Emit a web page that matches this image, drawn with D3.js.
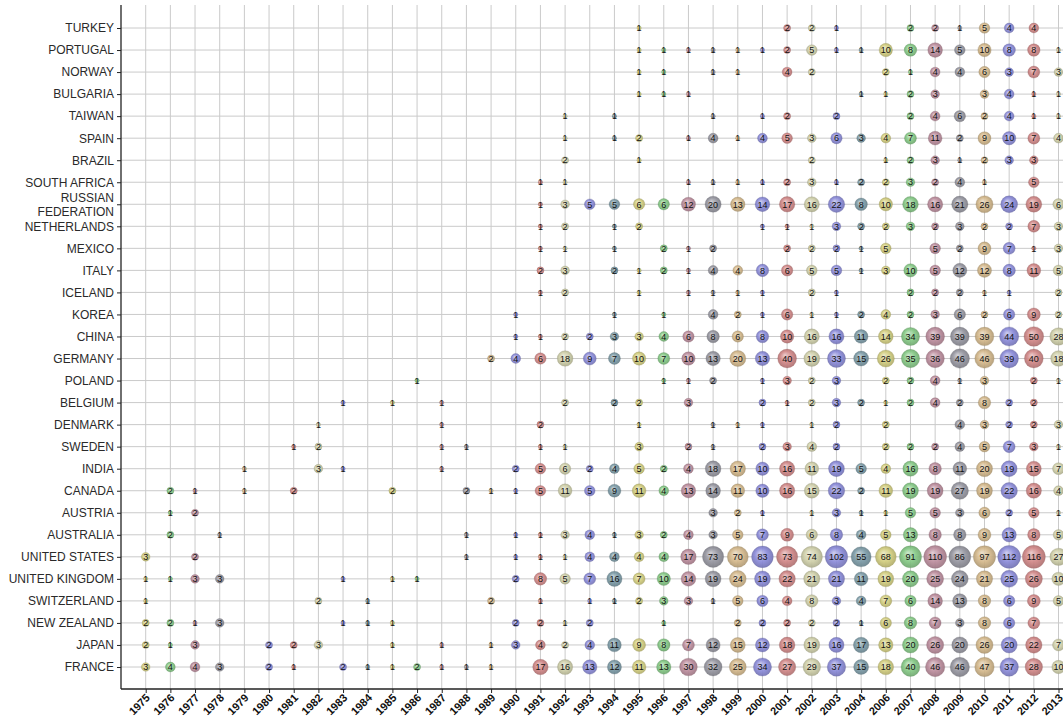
<!DOCTYPE html>
<html>
<head>
<meta charset="utf-8">
<script src="https://cdn.jsdelivr.net/npm/d3@7"></script>
<style>
  html, body { margin: 0; padding: 0; background: #fff; }
  svg { display: block; font-family: "Liberation Sans", Arial, sans-serif; }
</style>
</head>
<body>
<svg id="chart" width="1063" height="718"></svg>
<script>
// Rows, top to bottom
const countries = [
  "TURKEY", "PORTUGAL", "NORWAY", "BULGARIA", "TAIWAN", "SPAIN", "BRAZIL",
  "SOUTH AFRICA", "RUSSIAN FEDERATION", "NETHERLANDS", "MEXICO", "ITALY",
  "ICELAND", "KOREA", "CHINA", "GERMANY", "POLAND", "BELGIUM", "DENMARK",
  "SWEDEN", "INDIA", "CANADA", "AUSTRIA", "AUSTRALIA", "UNITED STATES",
  "UNITED KINGDOM", "SWITZERLAND", "NEW ZEALAND", "JAPAN", "FRANCE"
];

// Year columns (2005 has no column)
const years = [
  "1975", "1976", "1977", "1978", "1979", "1980", "1981", "1982", "1983", "1984",
  "1985", "1986", "1987", "1988", "1989", "1990", "1991", "1992", "1993", "1994",
  "1995", "1996", "1997", "1998", "1999", "2000", "2001", "2002", "2003", "2004",
  "2006", "2007", "2008", "2009", "2010", "2011", "2012", "2013"
];

// Counts per country, one entry per year column; 0 = no bubble
//            1975 ............ 1984 | 1985 ............ 1994 | 1995 ................... 2004 | 2006 ........... 2013
const counts = [
  /* TURKEY */       [0,0,0,0,0,0,0,0,0,0, 0,0,0,0,0,0,0,0,0,0, 1,0,0,0,0,0,2,2,1,0, 0,2,2,1,5,4,4,0],
  /* PORTUGAL */     [0,0,0,0,0,0,0,0,0,0, 0,0,0,0,0,0,0,0,0,0, 1,1,1,1,1,1,2,5,1,1, 10,8,14,5,10,8,8,1],
  /* NORWAY */       [0,0,0,0,0,0,0,0,0,0, 0,0,0,0,0,0,0,0,0,0, 1,1,0,1,1,0,4,2,0,0, 2,1,4,4,6,3,7,3],
  /* BULGARIA */     [0,0,0,0,0,0,0,0,0,0, 0,0,0,0,0,0,0,0,0,0, 1,1,1,0,0,0,0,0,0,1, 1,2,3,0,3,4,1,1],
  /* TAIWAN */       [0,0,0,0,0,0,0,0,0,0, 0,0,0,0,0,0,0,1,0,1, 0,0,0,1,0,1,2,0,2,0, 0,2,4,6,2,4,1,1],
  /* SPAIN */        [0,0,0,0,0,0,0,0,0,0, 0,0,0,0,0,0,0,1,0,1, 2,0,1,4,1,4,5,3,6,3, 4,7,11,2,9,10,7,4],
  /* BRAZIL */       [0,0,0,0,0,0,0,0,0,0, 0,0,0,0,0,0,0,2,0,0, 1,0,0,0,0,0,0,2,0,0, 1,2,3,1,2,3,3,0],
  /* SOUTH AFRICA */ [0,0,0,0,0,0,0,0,0,0, 0,0,0,0,0,0,1,1,0,0, 0,0,1,1,1,1,2,3,1,2, 2,3,2,4,1,0,5,0],
  /* RUSSIAN FED. */ [0,0,0,0,0,0,0,0,0,0, 0,0,0,0,0,0,1,3,5,5, 6,6,12,20,13,14,17,16,22,8, 10,18,16,21,26,24,19,6],
  /* NETHERLANDS */  [0,0,0,0,0,0,0,0,0,0, 0,0,0,0,0,0,1,2,0,1, 2,0,0,0,0,1,1,1,3,2, 2,3,2,3,2,2,7,3],
  /* MEXICO */       [0,0,0,0,0,0,0,0,0,0, 0,0,0,0,0,0,1,1,0,1, 0,2,1,2,0,0,2,2,2,1, 5,0,5,2,9,7,1,3],
  /* ITALY */        [0,0,0,0,0,0,0,0,0,0, 0,0,0,0,0,0,2,3,0,2, 1,2,1,4,4,8,6,5,5,1, 3,10,5,12,12,8,11,5],
  /* ICELAND */      [0,0,0,0,0,0,0,0,0,0, 0,0,0,0,0,0,1,2,0,0, 1,0,1,1,1,1,0,2,1,0, 0,2,2,2,1,1,0,2],
  /* KOREA */        [0,0,0,0,0,0,0,0,0,0, 0,0,0,0,0,1,0,0,0,1, 0,1,0,4,2,1,6,1,1,2, 4,2,3,6,2,6,9,2],
  /* CHINA */        [0,0,0,0,0,0,0,0,0,0, 0,0,0,0,0,1,1,2,2,3, 3,4,6,8,6,8,10,16,16,11, 14,34,39,39,39,44,50,28],
  /* GERMANY */      [0,0,0,0,0,0,0,0,0,0, 0,0,0,0,2,4,6,18,9,7, 10,7,10,13,20,13,40,19,33,15, 26,35,36,46,46,39,40,18],
  /* POLAND */       [0,0,0,0,0,0,0,0,0,0, 0,1,0,0,0,0,0,0,0,0, 0,1,1,2,0,1,3,2,3,0, 2,2,4,1,3,0,2,1],
  /* BELGIUM */      [0,0,0,0,0,0,0,0,1,0, 1,0,1,0,0,0,0,2,0,2, 2,0,3,0,0,2,1,2,3,2, 1,2,4,2,8,2,2,0],
  /* DENMARK */      [0,0,0,0,0,0,0,1,0,0, 0,0,1,0,0,0,2,0,0,0, 1,0,0,1,1,1,0,1,2,0, 2,0,0,4,3,2,2,3],
  /* SWEDEN */       [0,0,0,0,0,0,1,2,0,0, 0,0,1,1,0,0,1,1,0,0, 3,0,2,1,0,2,3,4,2,0, 2,2,2,4,5,7,3,1],
  /* INDIA */        [0,0,0,0,1,0,0,3,1,0, 0,0,1,0,0,2,5,6,2,4, 5,2,4,18,17,10,16,11,19,5, 4,16,8,11,20,19,15,7],
  /* CANADA */       [0,2,1,0,1,0,2,0,0,0, 2,0,0,2,1,1,5,11,5,9, 11,4,13,14,11,10,16,15,22,2, 11,19,19,27,19,22,16,4],
  /* AUSTRIA */      [0,1,2,0,0,0,0,0,0,0, 0,0,0,0,0,0,0,0,0,0, 0,0,0,3,2,1,0,1,3,1, 1,5,5,3,6,2,5,1],
  /* AUSTRALIA */    [0,2,0,1,0,0,0,0,0,0, 0,0,0,1,0,1,1,3,4,1, 3,2,4,3,5,7,9,6,8,4, 5,13,8,8,9,13,8,5],
  /* UNITED STATES */[3,0,2,0,0,0,0,0,0,0, 0,0,0,1,0,1,1,1,4,4, 4,4,17,73,70,83,73,74,102,55, 68,91,110,86,97,112,116,27],
  /* UNITED KINGDOM */[1,1,3,3,0,0,0,0,1,0, 1,1,0,0,0,2,8,5,7,16, 7,10,14,19,24,19,22,21,21,11, 19,20,25,24,21,25,26,10],
  /* SWITZERLAND */  [1,0,0,0,0,0,0,2,0,1, 0,0,0,0,2,0,1,0,1,1, 2,3,3,1,5,6,4,8,3,4, 7,6,14,13,8,6,9,5],
  /* NEW ZEALAND */  [2,2,1,3,0,0,0,0,1,1, 1,0,0,0,0,2,2,1,2,0, 0,1,0,0,2,2,2,2,2,1, 6,8,7,3,8,6,7,0],
  /* JAPAN */        [2,1,3,0,0,2,2,3,0,0, 1,0,1,0,1,3,4,2,4,11, 9,8,7,12,15,12,18,19,16,17, 13,20,26,20,26,20,22,7],
  /* FRANCE */       [3,4,4,3,0,2,1,0,2,1, 1,2,1,1,1,0,17,16,13,12, 11,13,30,32,25,34,27,29,37,15, 18,40,46,46,47,37,28,10]
];

// Column colours repeat every ten year columns
const palette = [
  "#d2cd7e", "#84c884", "#bb8c9c", "#95959f", "#d3b78a",
  "#8a8ad8", "#d08686", "#cfcfa9", "#8a8ad8", "#7b9aa6"
];

const svg = d3.select("#chart");
const W = 1063, H = 718;
const plotLeft = 121, plotTop = 5, plotBottom = 689;

const x = d3.scalePoint().domain(years).range([145.7, 1058.5]);
const y = d3.scalePoint().domain(countries).range([28, 667]);
const r = d3.scaleLog().domain([1, 116]).range([2.2, 11.5]);

// Sphere-like radial gradients, one per palette entry
const defs = svg.append("defs");
palette.forEach((c, i) => {
  const g = defs.append("radialGradient")
    .attr("id", "ball" + i)
    .attr("cx", "50%").attr("cy", "50%").attr("r", "55%")
    .attr("fx", "38%").attr("fy", "32%");
  const base = d3.color(c);
  g.append("stop").attr("offset", "0%").attr("stop-color", d3.interpolateRgb(c, "#ffffff")(0.55));
  g.append("stop").attr("offset", "55%").attr("stop-color", c);
  g.append("stop").attr("offset", "100%").attr("stop-color", base.darker(0.6));
});

svg.append("rect").attr("width", W).attr("height", H).attr("fill", "#fff");

// Grid
const grid = svg.append("g").attr("stroke", "#cacaca").attr("stroke-width", 1);
grid.selectAll("line.v").data(years).join("line")
  .attr("class", "v")
  .attr("x1", d => x(d)).attr("x2", d => x(d))
  .attr("y1", plotTop).attr("y2", plotBottom);
grid.selectAll("line.h").data(countries).join("line")
  .attr("class", "h")
  .attr("x1", plotLeft).attr("x2", W)
  .attr("y1", d => y(d)).attr("y2", d => y(d));

// Axes
const yAxis = svg.append("g")
  .attr("transform", `translate(${plotLeft},0)`)
  .call(d3.axisLeft(y).tickSize(4).tickSizeOuter(0).tickPadding(3));
yAxis.select(".domain").remove();
yAxis.selectAll(".tick line").attr("stroke", "#222");
yAxis.selectAll(".tick text")
  .attr("font-size", 12)
  .attr("fill", "#2a2a2a")
  .attr("font-family", "'Liberation Sans', Arial, sans-serif")
  .each(function (d) {
    const words = d.split(" ");
    if (d === "RUSSIAN FEDERATION") {
      const t = d3.select(this).text(null);
      t.append("tspan").attr("x", -7).attr("dy", "-0.27em").text(words[0]);
      t.append("tspan").attr("x", -7).attr("dy", "1.17em").text(words[1]);
    }
  });

const xAxis = svg.append("g")
  .attr("transform", `translate(0,${plotBottom})`)
  .call(d3.axisBottom(x).tickSize(4).tickSizeOuter(0));
xAxis.select(".domain").remove();
xAxis.selectAll(".tick line").attr("stroke", "#222");
xAxis.selectAll(".tick text")
  .attr("font-size", 11)
  .attr("font-weight", "bold")
  .attr("fill", "#111")
  .attr("font-family", "'Liberation Sans', Arial, sans-serif")
  .attr("text-anchor", "end")
  .attr("x", 0)
  .attr("y", 0)
  .attr("dy", 0)
  .attr("transform", "translate(4.5,9.5) rotate(-45)");

svg.append("line").attr("x1", plotLeft).attr("x2", plotLeft).attr("y1", plotTop).attr("y2", plotBottom)
  .attr("stroke", "#222").attr("stroke-width", 1.3);
svg.append("line").attr("x1", plotLeft).attr("x2", W).attr("y1", plotBottom).attr("y2", plotBottom)
  .attr("stroke", "#222").attr("stroke-width", 1.3);

// Bubbles
const cells = [];
countries.forEach((c, i) => {
  years.forEach((yr, j) => {
    const v = counts[i][j];
    if (v > 0) cells.push({ country: c, year: yr, col: j, value: v });
  });
});

const bubbles = svg.append("g").selectAll("g").data(cells).join("g")
  .attr("transform", d => `translate(${x(d.year)},${y(d.country)})`);

bubbles.append("circle")
  .attr("r", d => r(d.value))
  .attr("fill", d => `url(#ball${d.col % 10})`)
  .attr("fill-opacity", 0.92)
  .attr("stroke", d => d3.color(palette[d.col % 10]).darker(0.8))
  .attr("stroke-opacity", 0.45)
  .attr("stroke-width", 0.6);

bubbles.append("text")
  .attr("text-anchor", "middle")
  .attr("dy", "0.36em")
  .attr("font-size", 9)
  .attr("fill", "#111")
  .text(d => d.value);
</script>
</body>
</html>
